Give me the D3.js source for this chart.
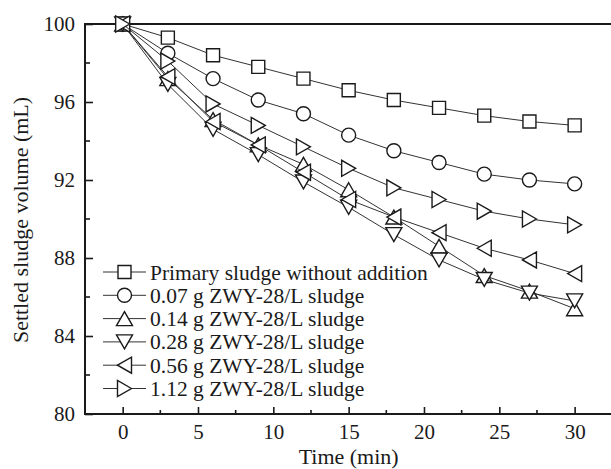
<!DOCTYPE html>
<html>
<head>
<meta charset="utf-8">
<script src="https://cdn.jsdelivr.net/npm/d3@7"></script>
<style>
  body { margin: 0; background: #fff; }
  svg { display: block; font-family: "Liberation Serif", "Times New Roman", serif; }
</style>
</head>
<body>
<svg id="chart" width="611" height="469"></svg>
<script>
// time points (min)
const times = [0, 3, 6, 9, 12, 15, 18, 21, 24, 27, 30];

// settled sludge volume (mL) per dosage
const primary = [100, 99.3, 98.4, 97.8, 97.2, 96.6, 96.1, 95.7, 95.3, 95.0, 94.8];
const dose007 = [100, 98.5, 97.2, 96.1, 95.4, 94.3, 93.5, 92.9, 92.3, 92.0, 91.8];
const dose014 = [100, 97.2, 95.1, 93.8, 92.8, 91.5, 90.1, 88.6, 87.1, 86.3, 85.4];
const dose028 = [100, 96.9, 94.6, 93.3, 91.9, 90.6, 89.2, 87.9, 86.9, 86.2, 85.8];
const dose056 = [100, 97.3, 95.0, 93.8, 92.4, 91.0, 90.1, 89.3, 88.5, 87.9, 87.2];
const dose112 = [100, 98.1, 95.9, 94.8, 93.7, 92.6, 91.6, 91.0, 90.4, 90.0, 89.7];

const seriesNames = [
  "Primary sludge without addition",
  "0.07 g ZWY-28/L sludge",
  "0.14 g ZWY-28/L sludge",
  "0.28 g ZWY-28/L sludge",
  "0.56 g ZWY-28/L sludge",
  "1.12 g ZWY-28/L sludge"
];
const seriesShapes = ["square", "circle", "up", "down", "left", "right"];
const seriesValues = [primary, dose007, dose014, dose028, dose056, dose112];

const xTicks = [0, 5, 10, 15, 20, 25, 30];
const yTicks = [80, 84, 88, 92, 96, 100];

const ink = "#1a1a1a";
const svg = d3.select("#chart");

const x = d3.scaleLinear().domain([-2.5, 32.5]).range([85, 612.3]);
const y = d3.scaleLinear().domain([80, 100]).range([414, 24]);

// marker path centred at 0,0
function marker(shape) {
  const s = 6.5, t = 8, h = 7;
  if (shape === "square") return `M${-s},${-s}H${s}V${s}H${-s}Z`;
  if (shape === "circle") return d3.arc()({innerRadius: 0, outerRadius: 7, startAngle: 0, endAngle: 2 * Math.PI});
  if (shape === "up") return `M0,${-h}L${t},${h}L${-t},${h}Z`;
  if (shape === "down") return `M0,${h}L${t},${-h}L${-t},${-h}Z`;
  if (shape === "left") return `M${-h},0L${h},${-t}L${h},${t}Z`;
  return `M${h},0L${-h},${-t}L${-h},${t}Z`;
}

const series = seriesNames.map((name, i) => ({
  name: name,
  shape: seriesShapes[i],
  points: times.map((t, j) => ({t: t, v: seriesValues[i][j]}))
}));

// axes: bottom and left with inward ticks
const xAxis = d3.axisBottom(x).tickValues(xTicks).tickSizeInner(-7).tickSizeOuter(0).tickPadding(10).tickFormat(d3.format("d"));
const yAxis = d3.axisLeft(y).tickValues(yTicks).tickSizeInner(-8).tickSizeOuter(0).tickPadding(10).tickFormat(d3.format("d"));

const gx = svg.append("g").attr("transform", "translate(0,414)").call(xAxis);
const gy = svg.append("g").attr("transform", "translate(85,0)").call(yAxis);

[gx, gy].forEach(g => {
  g.select(".domain").remove();
  g.selectAll(".tick line").attr("stroke", ink).attr("stroke-width", 1.6);
  g.selectAll(".tick text").attr("fill", ink).style("font-size", "21px").style("font-family", "Liberation Serif, serif");
});

// minor ticks
const xMinor = d3.range(-2.5, 32.6, 5).filter(v => v > -2.5 && v < 32.5);
svg.append("g").selectAll("line").data(xMinor).join("line")
  .attr("x1", d => x(d)).attr("x2", d => x(d))
  .attr("y1", 414).attr("y2", 410)
  .attr("stroke", ink).attr("stroke-width", 1.6);
const yMinor = [82, 86, 90, 94, 98];
svg.append("g").selectAll("line").data(yMinor).join("line")
  .attr("x1", 85).attr("x2", 90)
  .attr("y1", d => y(d)).attr("y2", d => y(d))
  .attr("stroke", ink).attr("stroke-width", 1.6);

// frame lines
svg.append("line").attr("x1", 85).attr("x2", 612).attr("y1", 414).attr("y2", 414).attr("stroke", ink).attr("stroke-width", 2);
svg.append("line").attr("x1", 85).attr("x2", 612).attr("y1", 24).attr("y2", 24).attr("stroke", ink).attr("stroke-width", 2);
svg.append("line").attr("x1", 85).attr("x2", 85).attr("y1", 23).attr("y2", 415).attr("stroke", ink).attr("stroke-width", 2);

// axis titles
svg.append("text")
  .attr("x", x(15)).attr("y", 464)
  .attr("text-anchor", "middle")
  .attr("fill", ink)
  .style("font-size", "22px")
  .text("Time (min)");
svg.append("text")
  .attr("transform", "translate(28,220) rotate(-90)")
  .attr("text-anchor", "middle")
  .attr("fill", ink)
  .style("font-size", "22px")
  .text("Settled sludge volume (mL)");

// series
const line = d3.line().x(d => x(d.t)).y(d => y(d.v));
const plot = svg.append("g");
series.forEach(s => {
  const g = plot.append("g");
  g.append("path")
    .attr("d", line(s.points))
    .attr("fill", "none")
    .attr("stroke", "#333")
    .attr("stroke-width", 1);
  g.selectAll("path.m").data(s.points).join("path")
    .attr("class", "m")
    .attr("d", marker(s.shape))
    .attr("transform", d => `translate(${x(d.t)},${y(d.v)})`)
    .attr("fill", "#fff")
    .attr("stroke", ink)
    .attr("stroke-width", 1.4);
});

// legend
const legend = svg.append("g");
const rowY = d3.scaleLinear().domain([0, 5]).range([272, 388.5]);
series.forEach((s, i) => {
  const yy = rowY(i);
  legend.append("line")
    .attr("x1", 103).attr("x2", 146).attr("y1", yy).attr("y2", yy)
    .attr("stroke", "#333").attr("stroke-width", 1);
  legend.append("path")
    .attr("d", marker(s.shape))
    .attr("transform", `translate(124.5,${yy})`)
    .attr("fill", "#fff")
    .attr("stroke", ink)
    .attr("stroke-width", 1.4);
  legend.append("text")
    .attr("x", 150).attr("y", yy)
    .attr("dy", "0.35em")
    .attr("fill", ink)
    .style("font-size", "21.5px")
    .text(s.name);
});
</script>
</body>
</html>
